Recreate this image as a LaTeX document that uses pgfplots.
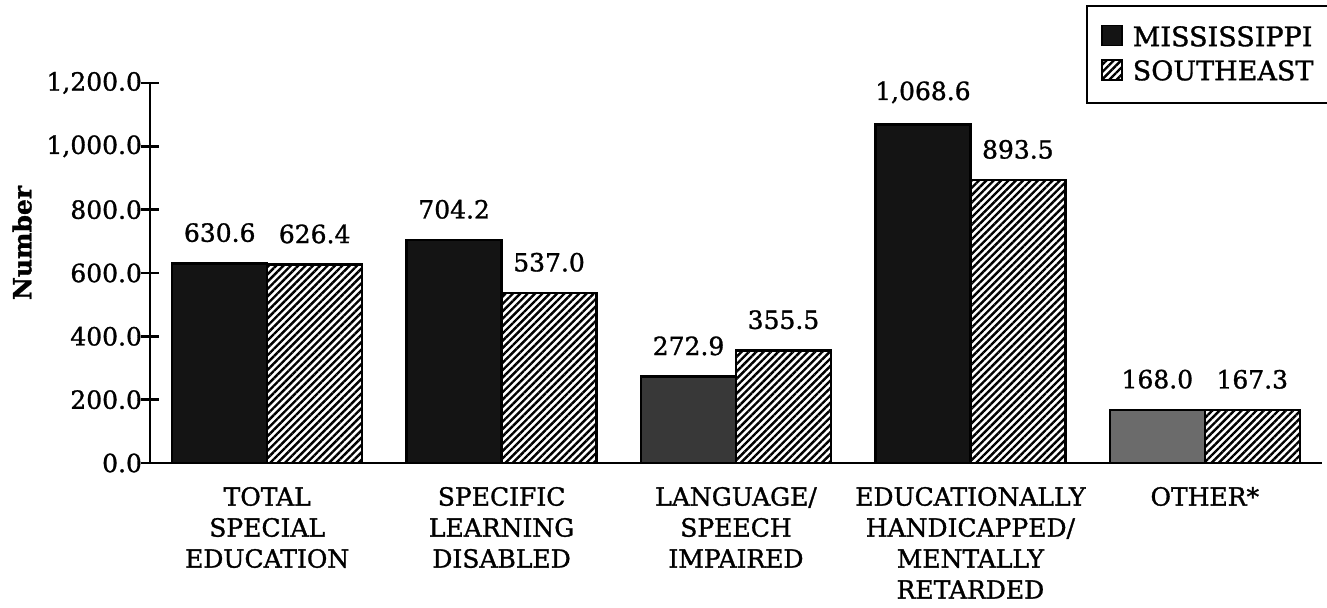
\documentclass[border=0pt]{standalone}
\usepackage{fontspec}
\setmainfont{DejaVu Serif}[FakeBold=1.2]
\usepackage{pgfplots}
\pgfplotsset{compat=1.18}
\usetikzlibrary{patterns.meta}

% one category step is 586pt/5 = 117.2pt; a bar shift of 0.2025 is 23.73pt
\pgfplotsset{
  legsq/.style={legend image code/.code={%
    \draw[##1,line width=0.8pt] (0pt,-4pt) rectangle (10pt,6pt);}},
  msbar/.style={ybar, bar width=0.405, bar shift=-0.2025, draw=black,
    line width=1.2pt, legsq,
    every node near coord/.append style={xshift=-23.73pt}},
  sebar/.style={ybar, bar width=0.405, bar shift=0.2025, draw=black,
    line width=1.2pt, fill=white,
    pattern={Lines[angle=45,distance=2.6pt,line width=1.2pt]}, legsq,
    every node near coord/.append style={xshift=23.73pt}},
}

\begin{document}
\begin{tikzpicture}
\path[use as bounding box] (0,0) rectangle (663.5pt,304pt);
\begin{axis}[
  at={(75pt,72.5pt)}, anchor=south west,
  scale only axis, width=586pt, height=190pt,
  font=\fontsize{12.5}{15.5}\selectfont,
  xmin=-0.5, xmax=4.5, ymin=0, ymax=1200,
  axis x line=bottom, axis y line=left,
  axis line style={-, line width=1.3pt},
  ytick={0,200,...,1200},
  scaled y ticks=false,
  /pgf/number format/.cd, fixed, fixed zerofill, precision=1,
    1000 sep={,}, assume math mode=true,
  /pgfplots/.cd,
  yticklabel style={xshift=4pt},
  xtick={0,1,2,3,4},
  xticklabels={{TOTAL\\SPECIAL\\EDUCATION},
               {SPECIFIC\\LEARNING\\DISABLED},
               {LANGUAGE/\\SPEECH\\IMPAIRED},
               {EDUCATIONALLY\\HANDICAPPED/\\MENTALLY\\RETARDED},
               {OTHER*}},
  xticklabel style={align=center, yshift=-4pt},
  x tick style={draw=none},
  minor xtick={-0.5,0.5,1.5,2.5,3.5,4.5},
  minor x tick style={line width=1.2pt, black},
  minor tick length=10pt,
  y tick style={line width=1.2pt, black},
  major tick length=9pt,
  tick align=center,
  ylabel={\bfseries Number},
  ylabel style={at={(axis description cs:-0.1092,0.579)}, anchor=center},
  nodes near coords,
  every node near coord/.append style={text=black, anchor=south,
    inner sep=0pt, yshift=10pt, font=\fontsize{12.5}{15.5}\selectfont},
  legend style={at={(axis description cs:0.7986,1.2053)}, anchor=north west,
    draw=black, line width=1.2pt, inner xsep=7pt, inner ysep=8pt,
    row sep=1.5pt, column sep=3pt, font=\fontsize{13.5}{16}\selectfont},
  legend cell align=left,
]
% Mississippi
\addplot[msbar, fill=black!92] coordinates {(0,630.6) (1,704.2) (3,1068.6)};
\addlegendentry{MISSISSIPPI\hspace*{8pt}}
% Southeast
\addplot[sebar] coordinates {(0,626.4) (1,537.0) (2,355.5) (3,893.5) (4,167.3)};
\addlegendentry{SOUTHEAST}
% Mississippi bars printed in lighter screens
\addplot[msbar, fill=black!78, forget plot] coordinates {(2,272.9)};
\addplot[msbar, fill=black!58, forget plot] coordinates {(4,168.0)};
\end{axis}
\end{tikzpicture}
\end{document}
